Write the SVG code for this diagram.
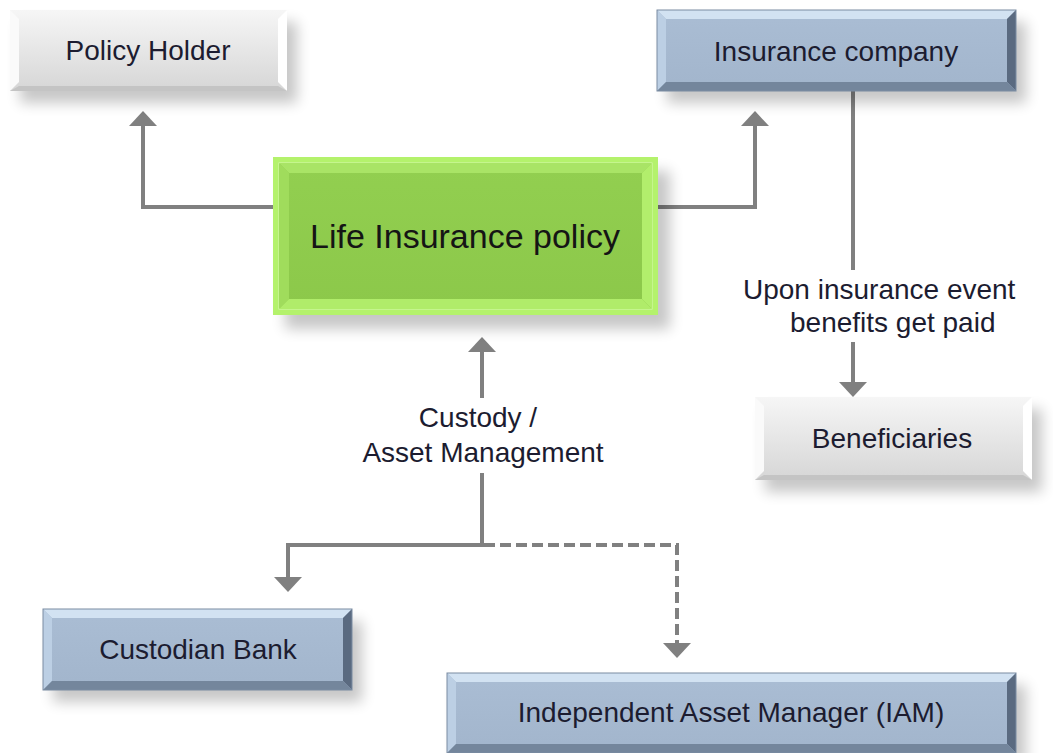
<svg xmlns="http://www.w3.org/2000/svg" width="1053" height="753" viewBox="0 0 1053 753">
<defs>
  <linearGradient id="gGray" x1="0" y1="0" x2="0" y2="1">
    <stop offset="0" stop-color="#f6f6f6"/>
    <stop offset="1" stop-color="#d6d6d6"/>
  </linearGradient>
  <linearGradient id="gBlue" x1="0" y1="0" x2="0" y2="1">
    <stop offset="0" stop-color="#aabdd4"/>
    <stop offset="1" stop-color="#a2b5cc"/>
  </linearGradient>
  <linearGradient id="gGreen" x1="0" y1="0" x2="0" y2="1">
    <stop offset="0" stop-color="#92cf50"/>
    <stop offset="1" stop-color="#8cc84a"/>
  </linearGradient>
  <filter id="shadow" x="-20%" y="-30%" width="140%" height="160%">
    <feGaussianBlur stdDeviation="7"/>
  </filter>
  <marker id="arr" viewBox="0 -15 16 30" markerWidth="16" markerHeight="30" refX="0" refY="0" orient="auto" markerUnits="userSpaceOnUse">
    <path d="M0,-14 L15,0 L0,14 z" fill="#808080"/>
  </marker>
</defs>
<style>
  .lbl { font-family: "Liberation Sans", Arial, sans-serif; font-size: 28px; fill: #1c1c30; }
  .big { font-family: "Liberation Sans", Arial, sans-serif; font-size: 34px; fill: #151515; }
  .conn { fill: none; stroke: #808080; stroke-width: 4; }
  .dash { stroke-dasharray: 11 5; }
  .shd { fill: #000; opacity: 0.22; filter: url(#shadow); }
  .gray-top { fill: #f4f4f4; }
  .gray-left { fill: #fafafa; }
  .gray-right { fill: #ffffff; }
  .gray-bot { fill: #c4c4c4; }
  .blue-top { fill: #d2e2f2; }
  .blue-left { fill: #bccfe4; }
  .blue-right { fill: #5a6a80; }
  .blue-bot { fill: #74869c; }
  .green-top { fill: #a9e466; }
  .green-left { fill: #a0dc5c; }
  .green-right { fill: #b2ee6c; }
  .green-bot { fill: #b0ec6a; }
</style>

<g id="connectors">
  <path class="conn" d="M273,207 H143 V126" marker-end="url(#arr)"/>
  <path class="conn" d="M658,207 H755 V126" marker-end="url(#arr)"/>
  <path class="conn" d="M853,91 V270"/>
  <path class="conn" d="M853,342 V382" marker-end="url(#arr)"/>
  <path class="conn" d="M482,398 V352" marker-end="url(#arr)"/>
  <path class="conn" d="M482,473 V545 H288 V577" marker-end="url(#arr)"/>
  <path class="conn dash" d="M484,545 H677 V643" marker-end="url(#arr)"/>
</g>

<g id="node-policy-holder">
  <rect class="shd" x="20" y="22" width="277" height="81"/>
  <rect x="10" y="10" width="277" height="81" fill="url(#gGray)"/>
  <polygon class="gray-left" points="10,10 19,19 19,82 10,91"/>
  <polygon class="gray-right" points="287,10 287,91 278,82 278,19"/>
  <polygon class="gray-bot" points="10,91 287,91 278,86 19,86"/>
  <text class="lbl" x="148" y="60" text-anchor="middle">Policy Holder</text>
</g>

<g id="node-insurance-company">
  <rect class="shd" x="667" y="22" width="359" height="81"/>
  <rect x="657" y="10" width="359" height="81" fill="url(#gBlue)"/>
  <polygon class="blue-top" points="657,10 1016,10 1007,19 666,19"/>
  <polygon class="blue-left" points="657,10 666,19 666,82 657,91"/>
  <polygon class="blue-right" points="1016,10 1016,91 1007,82 1007,19"/>
  <polygon class="blue-bot" points="657,91 1016,91 1007,82 666,82"/>
  <rect x="657" y="10" width="359" height="81" fill="none" stroke="#7b8ca2" stroke-width="1"/>
  <text class="lbl" x="836" y="61" text-anchor="middle">Insurance company</text>
</g>

<g id="node-life-insurance-policy">
  <rect class="shd" x="285" y="171" width="385" height="158"/>
  <rect x="273" y="157" width="385" height="158" fill="#b4f26c"/>
  <rect x="279" y="163" width="373" height="146" fill="url(#gGreen)" stroke="#d6f7b0" stroke-width="1"/>
  <polygon class="green-top" points="279,163 652,163 642,173 289,173"/>
  <polygon class="green-left" points="279,163 289,173 289,299 279,309"/>
  <polygon class="green-right" points="652,163 652,309 642,299 642,173"/>
  <polygon class="green-bot" points="279,309 652,309 642,299 289,299"/>
  <text class="big" x="465" y="248" text-anchor="middle">Life Insurance policy</text>
</g>

<g id="node-beneficiaries">
  <rect class="shd" x="765" y="409" width="277" height="83"/>
  <rect x="755" y="397" width="277" height="83" fill="url(#gGray)"/>
  <polygon class="gray-left" points="755,397 764,406 764,471 755,480"/>
  <polygon class="gray-right" points="1032,397 1032,480 1023,471 1023,406"/>
  <polygon class="gray-bot" points="755,480 1032,480 1023,475 764,475"/>
  <text class="lbl" x="892" y="448" text-anchor="middle">Beneficiaries</text>
</g>

<g id="node-custodian-bank">
  <rect class="shd" x="53" y="621" width="309" height="81"/>
  <rect x="43" y="609" width="309" height="81" fill="url(#gBlue)"/>
  <polygon class="blue-top" points="43,609 352,609 343,618 52,618"/>
  <polygon class="blue-left" points="43,609 52,618 52,681 43,690"/>
  <polygon class="blue-right" points="352,609 352,690 343,681 343,618"/>
  <polygon class="blue-bot" points="43,690 352,690 343,681 52,681"/>
  <rect x="43" y="609" width="309" height="81" fill="none" stroke="#7b8ca2" stroke-width="1"/>
  <text class="lbl" x="198" y="659" text-anchor="middle">Custodian Bank</text>
</g>

<g id="node-iam">
  <rect class="shd" x="457" y="685" width="569" height="80"/>
  <rect x="447" y="673" width="569" height="80" fill="url(#gBlue)"/>
  <polygon class="blue-top" points="447,673 1016,673 1007,682 456,682"/>
  <polygon class="blue-left" points="447,673 456,682 456,744 447,753"/>
  <polygon class="blue-right" points="1016,673 1016,753 1007,744 1007,682"/>
  <polygon class="blue-bot" points="447,753 1016,753 1007,744 456,744"/>
  <rect x="447" y="673" width="569" height="80" fill="none" stroke="#7b8ca2" stroke-width="1"/>
  <text class="lbl" x="731" y="722" text-anchor="middle">Independent Asset Manager (IAM)</text>
</g>

<g id="labels">
  <text class="lbl" x="743" y="299">Upon insurance event</text>
  <text class="lbl" x="790" y="332">benefits get paid</text>
  <text class="lbl" x="478" y="427" text-anchor="middle">Custody /</text>
  <text class="lbl" x="483" y="462" text-anchor="middle">Asset Management</text>
</g>
</svg>
